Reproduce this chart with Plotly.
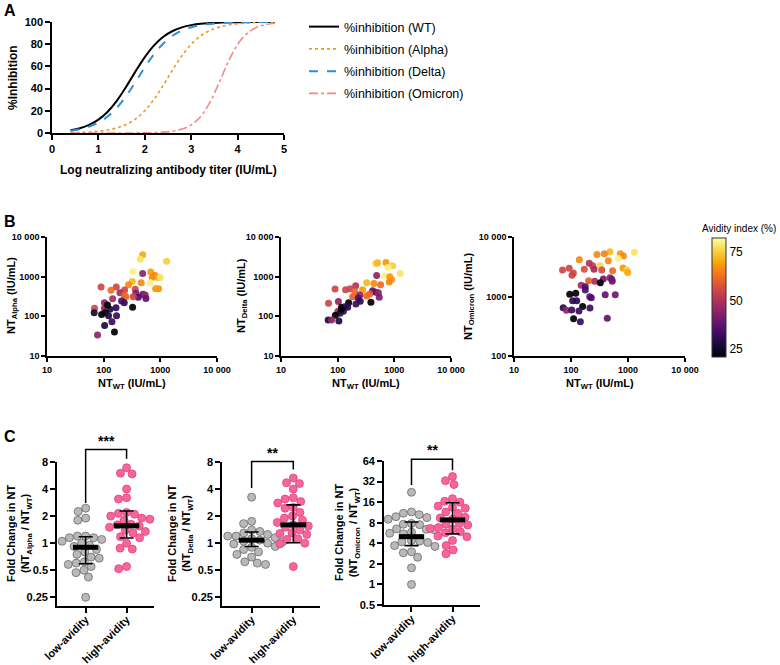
import math
import numpy as np
import plotly.graph_objects as go

W, H = 780, 665

# ---------------- Panel A: fitted inhibition curves ----------------
log_titer = [0.4, 0.6, 0.8, 1.0, 1.2, 1.4, 1.6, 1.8, 2.0, 2.2, 2.4, 2.6, 2.8, 3.0,
             3.2, 3.4, 3.6, 3.8, 4.0, 4.2, 4.4, 4.6, 4.8]
inh_wt = [2.5, 4.3, 7.3, 12.0, 19.2, 29.2, 41.8, 55.5, 68.4, 79.0, 86.7, 91.9, 95.2, 97.2,
          98.4, 99.0, 99.4, 99.7, 99.8, 99.9, 99.9, 100, 100]
inh_alpha = [0.3, 0.5, 0.9, 1.6, 2.7, 4.6, 7.7, 12.6, 20.1, 30.4, 43.1, 56.9, 69.6, 79.9,
             87.4, 92.3, 95.4, 97.3, 98.4, 99.1, 99.5, 99.7, 99.8]
inh_delta = [2.0, 3.4, 5.7, 9.3, 14.8, 22.8, 33.4, 46.0, 59.2, 71.1, 80.7, 87.6, 92.3, 95.3,
             97.2, 98.3, 99.0, 99.4, 99.7, 99.8, 99.9, 99.9, 100]
inh_omicron = [0.0, 0.0, 0.0, 0.0, 0.01, 0.02, 0.03, 0.07, 0.16, 0.34, 0.75, 1.6, 3.5, 7.3,
               14.7, 27.3, 45.1, 64.3, 79.7, 89.6, 95.0, 97.6, 98.9]

# ---------------- Panel B: NT scatter ----------------
b_alpha_wt = [488, 443, 1290, 329, 488, 676, 804, 720, 918, 993, 460, 320, 275, 665, 826,
              933, 90, 167, 135, 234, 194, 361, 371, 231, 247, 493, 542, 557, 408, 333,
              144, 207, 231, 103, 324, 165, 129, 69, 68, 103, 117, 92, 107, 122, 169,
              140, 104, 155, 78]
b_alpha_nt = [3550, 2730, 2430, 1350, 1200, 1306, 1075, 955, 955, 955, 702, 760, 630, 702, 495,
              495, 547, 547, 452, 458, 394, 479, 380, 344, 312, 358, 344, 283, 302, 312,
              276, 243, 219, 219, 170, 165, 150, 159, 123, 158, 193, 112, 123, 104, 104,
              73, 59, 40, 34]
b_alpha_av = [70, 78, 75, 80, 45, 68, 65, 66, 70, 78, 66, 72, 66, 80, 68,
              68, 55, 55, 62, 55, 48, 55, 42, 60, 62, 38, 45, 38, 35, 55,
              48, 35, 32, 45, 20, 30, 28, 55, 27, 45, 20, 20, 20, 28, 32,
              32, 28, 20, 45]

b_delta_wt = [473, 507, 711, 933, 1270, 771, 487, 664, 833, 895, 813, 437, 325, 573, 208,
              276, 138, 166, 90, 202, 414, 467, 524, 542, 367, 325, 247, 184, 231, 250,
              210, 386, 156, 69, 103, 117, 134, 150, 101, 110, 126, 91, 116, 68, 78, 105]
b_delta_nt = [2160, 2240, 2290, 1880, 1210, 1700, 1070, 1035, 1000, 852, 730, 676, 702, 625, 590,
              468, 468, 495, 489, 416, 441, 402, 394, 301, 363, 324, 344, 312, 289, 239,
              204, 225, 219, 213, 236, 169, 174, 169, 134, 119, 134, 107, 150, 81, 81, 76]
b_delta_av = [75, 72, 68, 75, 78, 80, 45, 80, 68, 68, 66, 66, 72, 62, 50,
              68, 55, 55, 55, 62, 38, 38, 45, 42, 60, 62, 45, 60, 35, 30,
              32, 20, 20, 55, 45, 20, 30, 30, 50, 30, 30, 20, 20, 27, 45, 28]

b_omi_wt = [1290, 733, 828, 483, 384, 286, 676, 452, 140, 323, 240, 209, 817, 948, 988,
            71, 93, 110, 104, 171, 253, 347, 537, 369, 483, 518, 530, 260, 204, 327,
            151, 178, 178, 121, 95, 213, 227, 107, 126, 398, 598, 73, 83, 103, 160,
            138, 215, 111, 146, 433]
b_omi_nt = [5530, 5250, 4790, 5660, 5250, 5100, 4370, 3985, 4150, 3290, 3290, 3610, 3025, 2785, 2520,
            2785, 2970, 2480, 2270, 2860, 2860, 2785, 2720, 1970, 2070, 1950, 1800, 1800, 1840, 1710,
            1540, 1460, 1290, 1130, 1090, 993, 955, 850, 850, 1070, 1070, 646, 588, 593, 676,
            570, 641, 424, 378, 430]
b_omi_av = [78, 68, 66, 72, 65, 66, 80, 66, 66, 76, 55, 50, 68, 75, 70,
            55, 55, 55, 55, 57, 48, 56, 62, 40, 45, 40, 40, 48, 60, 20,
            48, 35, 35, 20, 20, 38, 35, 30, 30, 38, 40, 30, 45, 32, 20,
            32, 32, 20, 32, 38]

nt_ticks = [10, 100, 1000, 10000]
nt_ticktext = ["10", "100", "1000", "10 000"]

# ---------------- Panel C: fold change ----------------
groups = ["low-avidity", "high-avidity"]
alpha_low = [2.45, 2.25, 1.9, 1.8, 1.2, 1.2, 1.15, 1.15, 1.1, 1.05, 1.0, 0.95, 0.92, 0.85, 0.8,
             0.75, 0.7, 0.68, 0.62, 0.6, 0.58, 0.55, 0.5, 0.47, 0.42, 0.25]
alpha_high = [6.9, 6.0, 5.9, 4.0, 3.2, 3.1, 2.2, 2.15, 2.1, 2.0, 1.9, 1.85, 1.8, 1.62, 1.6,
              1.55, 1.5, 1.4, 1.35, 1.3, 1.18, 1.15, 1.0, 0.88, 0.86, 0.55, 0.52]
delta_low = [3.25, 1.75, 1.65, 1.4, 1.35, 1.3, 1.25, 1.2, 1.2, 1.15, 1.12, 1.1, 1.08, 1.05, 1.03,
             1.0, 0.98, 0.95, 0.92, 0.9, 0.85, 0.8, 0.75, 0.7, 0.62, 0.6, 0.58]
delta_high = [5.3, 4.7, 4.6, 4.0, 3.2, 3.1, 2.9, 2.8, 2.5, 2.45, 2.2, 2.0, 1.9, 1.8, 1.7,
              1.6, 1.55, 1.5, 1.4, 1.3, 1.28, 1.25, 1.12, 1.1, 1.0, 0.98, 0.55]
omicron_low = [22.3, 11.5, 11.0, 10.5, 9.8, 9.5, 9.0, 7.8, 7.6, 7.5, 6.5, 6.4, 6.3, 5.8, 5.6,
               5.5, 4.4, 4.3, 4.2, 4.1, 3.7, 3.6, 3.0, 2.9, 2.5, 1.75, 1.0]
omicron_high = [38, 33, 29, 18, 16.5, 16, 14, 13.5, 13, 11.5, 11, 9.6, 9.4, 9.0, 7.8,
                7.6, 7.4, 6.8, 6.6, 6.5, 5.9, 5.7, 5.1, 5.0, 4.4, 3.7, 3.2, 2.8]
# median, lower (Q1), upper (Q3) as drawn
alpha_stats = [[0.9, 0.59, 1.18], [1.56, 1.14, 2.28]]
delta_stats = [[1.08, 0.92, 1.33], [1.6, 1.01, 2.67]]
omicron_stats = [[5.0, 3.7, 8.2], [8.8, 5.5, 15.7]]
# significance bracket: top, left foot, right foot, star level, label
alpha_sig = [11.0, 2.8, 8.7, 13.8, "***"]
delta_sig = [8.1, 4.1, 6.6, 10.2, "**"]
omicron_sig = [68, 28.5, 47, 92, "**"]

FONT = "Liberation Sans, Arial, sans-serif"


def dxd(a, b):
    return [a / W, b / W]


def dyd(top, bottom):
    return [1 - bottom / H, 1 - top / H]


def swarm(vals, ppu_y, ppu_x, d):
    ly = np.log2(np.array(vals, dtype=float)) * ppu_y
    order = np.argsort(-ly)
    placed = []
    xs = np.zeros(len(vals))
    for i in order:
        y = ly[i]
        cands = [0.0]
        for (px, py) in placed:
            dy = y - py
            if abs(dy) < d:
                off = math.sqrt(d * d - dy * dy)
                cands += [px + off, px - off]
        cands.sort(key=lambda c: (round(abs(c), 3), c))
        for c in cands:
            if all((c - px) ** 2 + (y - py) ** 2 >= d * d - 1e-6 for px, py in placed):
                xs[i] = c
                placed.append((c, y))
                break
    return xs / ppu_x


fig = go.Figure()

# ---- Panel A traces ----
curve_specs = [
    ("%inhibition (WT)", inh_wt, "black", "solid", 2),
    ("%inhibition (Alpha)", inh_alpha, "#ec9a2e", "dot", 1.6),
    ("%inhibition (Delta)", inh_delta, "#2d8fd5", "dash", 2),
    ("%inhibition (Omicron)", inh_omicron, "#f08a8a", "dashdot", 1.6),
]
for gi, (name, ys, col, dash, w) in enumerate(curve_specs):
    fig.add_trace(go.Scatter(x=log_titer, y=ys, mode="lines", name=name, legendgroup=f"g{gi}",
                             line=dict(color=col, dash=dash, width=w, shape="spline"),
                             xaxis="x", yaxis="y", showlegend=True))

# ---- Panel B traces ----
b_sets = [(b_alpha_wt, b_alpha_nt, b_alpha_av, "x2", "y2"),
          (b_delta_wt, b_delta_nt, b_delta_av, "x3", "y3"),
          (b_omi_wt, b_omi_nt, b_omi_av, "x4", "y4")]
for xs, ys, av, xa, ya in b_sets:
    fig.add_trace(go.Scatter(x=xs, y=ys, mode="markers", showlegend=False,
                             marker=dict(size=7, color=av, coloraxis="coloraxis",
                                         line=dict(width=0), opacity=0.92),
                             xaxis=xa, yaxis=ya))

# ---- Panel C traces ----
c_sets = [(alpha_low, alpha_high, alpha_stats, "x5", "y5", 27.0),
          (delta_low, delta_high, delta_stats, "x6", "y6", 27.0),
          (omicron_low, omicron_high, omicron_stats, "x7", "y7", 20.7)]
for low, high, stats, xa, ya, ppu in c_sets:
    for gi, (vals, fill, edge) in enumerate([(low, "#b9b9b9", "#6a6a6a"),
                                             (high, "#f5679b", "#e2407d")]):
        off = swarm(vals, ppu, 41.0, 8.2)
        fig.add_trace(go.Scatter(x=gi + off, y=vals, mode="markers", showlegend=False,
                                 marker=dict(size=8, color=fill, line=dict(color=edge, width=0.8)),
                                 xaxis=xa, yaxis=ya, cliponaxis=False))
    for gi in range(2):
        med, q1, q3 = stats[gi]
        fig.add_trace(go.Scatter(x=[gi], y=[med], mode="markers", showlegend=False,
                                 marker=dict(size=1, opacity=0),
                                 error_y=dict(type="data", symmetric=False, array=[q3 - med],
                                              arrayminus=[med - q1], width=7, thickness=1.6,
                                              color="black"),
                                 xaxis=xa, yaxis=ya))
        fig.add_trace(go.Scatter(x=[gi - 0.31, gi + 0.31], y=[med, med], mode="lines",
                                 showlegend=False, line=dict(color="black", width=5),
                                 xaxis=xa, yaxis=ya))

# ---------------- Layout ----------------
axis_common = dict(showline=True, linecolor="black", linewidth=1.6, ticks="outside",
                   ticklen=5, tickwidth=1.6, tickcolor="black", showgrid=False,
                   zeroline=False, mirror=False, automargin=False)
tf11 = dict(family=FONT, size=11, color="black", weight="bold")
tf9 = dict(family=FONT, size=9, color="black", weight="bold")

layout = dict(
    width=W, height=H, margin=dict(l=0, r=0, t=0, b=0, autoexpand=False),
    paper_bgcolor="white", plot_bgcolor="white",
    font=dict(family=FONT, color="black"),
    legend=dict(x=304 / W, y=1 - 12 / H, xanchor="left", yanchor="top",
                font=dict(family=FONT, size=12.5, color="black"),
                bgcolor="rgba(0,0,0,0)", itemwidth=30, tracegroupgap=3),
    coloraxis=dict(colorscale="Inferno", cmin=21, cmax=82,
                   colorbar=dict(x=712 / W, xanchor="left", y=1 - 297.5 / H, yanchor="middle",
                                 xpad=0, ypad=0,
                                 len=119 / H, lenmode="fraction", thickness=14,
                                 outlinewidth=1, outlinecolor="#333",
                                 tickvals=[25, 50, 75], ticks="",
                                 tickfont=dict(family=FONT, size=12, color="black"))),
)

layout["xaxis"] = dict(axis_common, domain=dxd(52, 284), range=[0, 5], tickvals=[0, 1, 2, 3, 4, 5],
                       tickfont=tf11, anchor="y")
layout["yaxis"] = dict(axis_common, domain=dyd(22, 133), range=[0, 100],
                       tickvals=[0, 20, 40, 60, 80, 100], tickfont=tf11, anchor="x")

b_dom = [(dxd(47, 217), "x2", "y2", [1, 4]), (dxd(281, 451), "x3", "y3", [1, 4]),
         (dxd(514, 685), "x4", "y4", [2, 4])]
for i, (dom, xa, ya, yr) in enumerate(b_dom):
    k = i + 2
    layout[f"xaxis{k}"] = dict(axis_common, domain=dom, type="log", range=[1, 4],
                               tickvals=nt_ticks, ticktext=nt_ticktext, tickfont=tf9,
                               anchor=ya, ticklen=4)
    layout[f"yaxis{k}"] = dict(axis_common, domain=dyd(237, 356), type="log", range=yr,
                               tickvals=nt_ticks, ticktext=nt_ticktext, tickfont=tf9,
                               anchor=xa, ticklen=4)

c_dom = [(dxd(57, 154), dyd(462, 606), [-0.70, 1.67], [0.2, 8], [0.25, 0.5, 1, 2, 4, 8]),
         (dxd(222, 320), dyd(462, 606), [-0.71, 1.64], [0.2, 8], [0.25, 0.5, 1, 2, 4, 8]),
         (dxd(384, 480), dyd(461, 605), [-0.67, 1.67], [0.5, 64], [0.5, 1, 2, 4, 8, 16, 32, 64])]
for i, (xd, yd, xr, yr, tv) in enumerate(c_dom):
    k = i + 5
    layout[f"xaxis{k}"] = dict(axis_common, domain=xd, range=xr, tickvals=[0, 1],
                               ticktext=groups, tickangle=-45, tickfont=tf11, anchor=f"y{k}",
                               ticklabelstandoff=-4)
    layout[f"yaxis{k}"] = dict(axis_common, domain=yd, type="log",
                               range=[math.log10(yr[0]), math.log10(yr[1])],
                               tickvals=tv, ticktext=[f"{v:g}" for v in tv], tickfont=tf11,
                               anchor=f"x{k}")

fig.update_layout(**layout)

# ---- significance brackets ----
shapes = []
annotations = []
for k, sig, yr in [(5, alpha_sig, [0.2, 8]), (6, delta_sig, [0.2, 8]), (7, omicron_sig, [0.5, 64])]:
    lo, hi = math.log10(yr[0]), math.log10(yr[1])

    def dom(v):
        return (math.log10(v) - lo) / (hi - lo)
    top, lf, rf, st, lab = sig
    shapes.append(dict(type="path", xref=f"x{k}", yref=f"y{k} domain",
                       path=f"M 0,{dom(lf)} L 0,{dom(top)} L 1,{dom(top)} L 1,{dom(rf)}",
                       line=dict(color="black", width=1.5)))
    annotations.append(dict(x=0.5, y=dom(st), xref=f"x{k}", yref=f"y{k} domain", text=lab,
                            showarrow=False, font=dict(family=FONT, size=14, color="black",
                                                       weight="bold"),
                            xanchor="center", yanchor="middle"))


def ann(text, x, y, size=12, angle=0, bold=True, xanchor="center"):
    annotations.append(dict(text=text, x=x / W, y=1 - y / H, xref="paper", yref="paper",
                            showarrow=False, textangle=angle, xanchor=xanchor, yanchor="middle",
                            font=dict(family=FONT, size=size, color="black",
                                      weight="bold" if bold else "normal")))


ann("A", 2, 11, size=16, xanchor="left")
ann("B", 2, 222, size=16, xanchor="left")
ann("C", 2, 436, size=16, xanchor="left")
ann("%Inhibition", 13, 78, size=12, angle=-90)
ann("Log neutralizing antibody titer (IU/mL)", 168, 170, size=12)

ann("NT<sub>Alpha</sub> (IU/mL)", 12, 296, size=11, angle=-90)
ann("NT<sub>Delta</sub> (IU/mL)", 242, 296, size=11, angle=-90)
ann("NT<sub>Omicron</sub> (IU/mL)", 469, 296, size=11, angle=-90)
for cx in [132, 366, 600]:
    ann("NT<sub>WT</sub> (IU/mL)", cx, 384, size=11)

ann("Fold Change in NT<br>(NT<sub>Alpha</sub> / NT<sub>WT</sub>)", 19, 534, size=11, angle=-90)
ann("Fold Change in NT<br>(NT<sub>Delta</sub> / NT<sub>WT</sub>)", 180, 534, size=11, angle=-90)
ann("Fold Change in NT<br>(NT<sub>Omicron</sub> / NT<sub>WT</sub>)", 347, 533, size=11, angle=-90)

# colorbar title
ann("Avidity index (%)", 778, 228, size=10, bold=False, xanchor="right")

fig.update_layout(shapes=shapes, annotations=annotations)
fig.write_html("out.html", config={"displayModeBar": False},
               post_script="document.body.style.margin='0';document.body.style.overflow='hidden';")
